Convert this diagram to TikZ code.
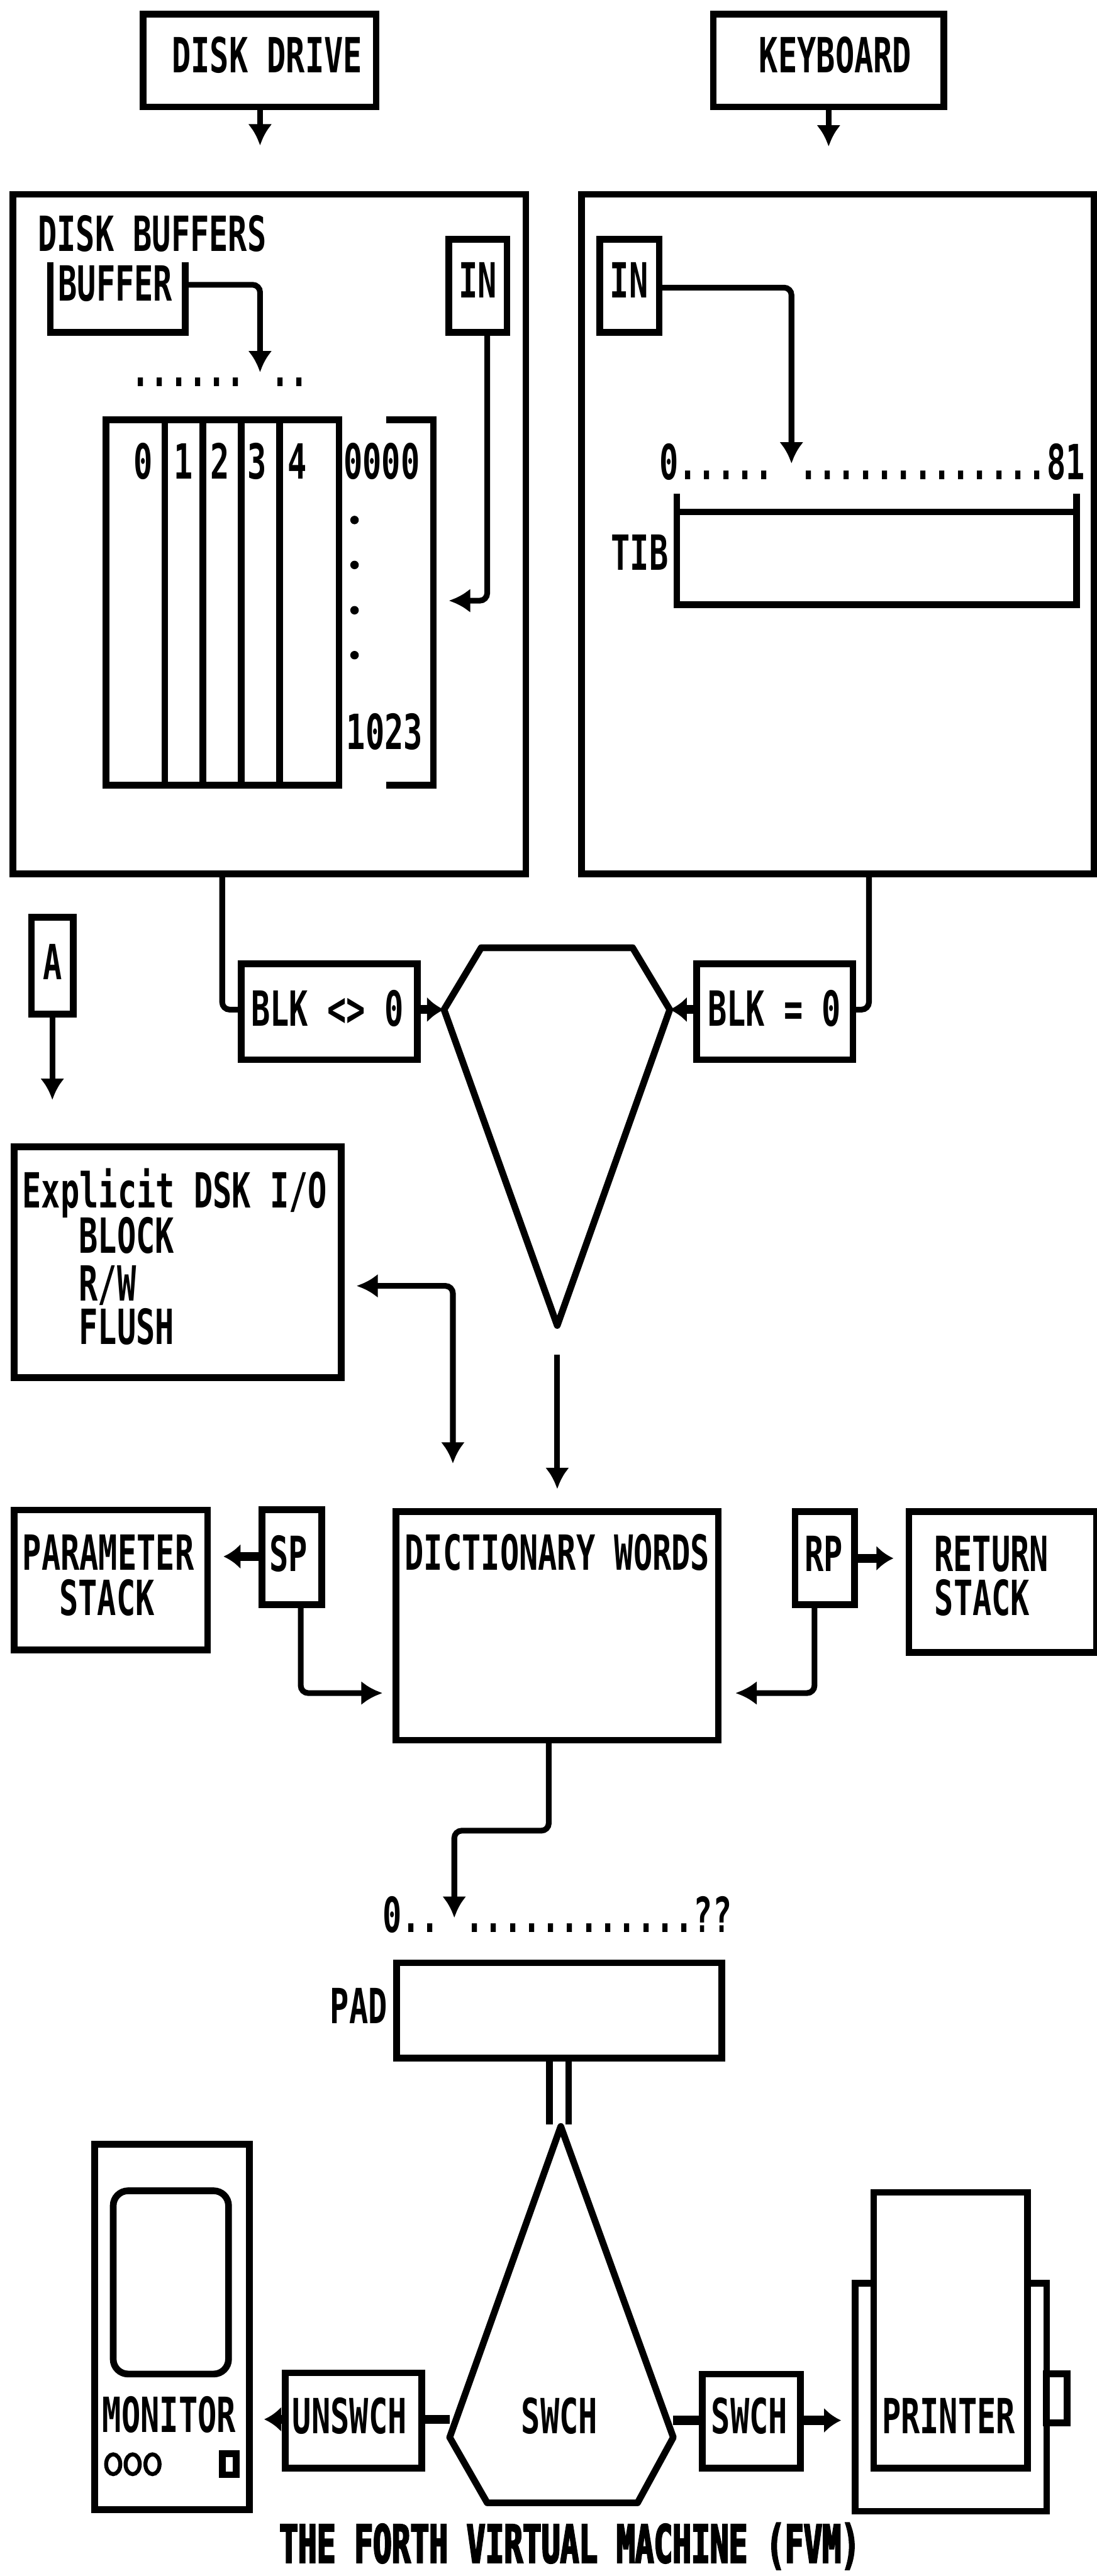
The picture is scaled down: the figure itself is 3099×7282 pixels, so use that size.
\documentclass[tikz,border=0pt]{standalone}
\usepackage{fontspec}
\usepackage{tikz}
\usetikzlibrary{positioning,calc,arrows.meta}
\newfontfamily\fvmfont[FakeStretch=0.653]{DejaVu Sans Mono}
\newfontfamily\fvmtitle[FakeStretch=0.596,BoldFeatures={FakeBold=3}]{DejaVu Sans Mono}
\tikzset{
  fvmbox/.style={draw,line width=2.7pt,inner sep=0pt,outer sep=0pt},
  boxsize/.style 2 args={minimum width=#1*0.005cm,minimum height=#2*0.005cm},
  lab/.style={font=\fvmfont\fontsize{19.5}{18}\selectfont\bfseries,inner sep=0pt,text height=0.5cm,text depth=0pt},
  wire/.style={line width=2.3pt,rounded corners=3pt},
  flow/.style={wire,-{Latex[length=3mm,width=3.4mm]}},
  fatflow/.style={line width=3.6pt,-{Latex[length=2.4mm,width=3.6mm]}}
}
\begin{document}
\begin{tikzpicture}[x=0.005cm,y=-0.005cm]
    \useasboundingbox (0,0) rectangle (3099,7282);
    % sources
    \node[fvmbox,boxsize={658}{263}] (disk) at (734,171) {};
    \node[lab] (disklab) at (755,156) {DISK DRIVE};
    \node[fvmbox,boxsize={652}{263}] (keyboard) at (2342,171) {};
    \node[lab] (keylab) at (2361,156) {KEYBOARD};
    \coordinate (diskend) at (735,411);
    \coordinate (keyend) at (2342,414);
    \draw[flow] (disk.south -| diskend) -- (diskend);
    \draw[flow] (keyboard.south -| keyend) -- (keyend);
    % disk buffers panel
    \node[fvmbox,boxsize={1450}{1921}] (bufpanel) at (761,1510) {};
    \node[lab] (buflab) at (430,660) {DISK BUFFERS};
    \node[lab] (bufferlab) at (326,800) {BUFFER};
    \coordinate (bufleft) at (142,741);
    \coordinate (bufright) at (524,741);
    \draw[line width=2.7pt] (bufleft) -- (142,940) -- (524,940) -- (bufright);
    \coordinate (bufout) at (524,805);
    \coordinate (bufend) at (735,1052);
    \draw[flow] (bufout) -| (bufend);
    \node[lab] (bufdots) at (622,1042) {...... ..};
    \node[fvmbox,boxsize={164}{263}] (blockin) at (1351,808) {};
    \node[lab] (blockinlab) at (1350,792) {IN};
    \node[fvmbox,boxsize={658}{1032}] (bufs) at (629,1703) {};
    \foreach \x in {466,573,682,790}{%
       \draw[line width=2.7pt] (\x,1187) -- (\x,2219);
    }
    \foreach \x/\n in {405/0,518/1,622/2,727/3,840/4}{%
       \node[lab] (bufnum\n) at (\x,1304) {\n};
    }
    \node[lab] (firstline) at (1079,1304) {0000};
    \node[lab] (lastline) at (1087,2069) {1023};
    \foreach \y in {1470,1597,1725,1852}{%
       \fill (1002,\y) circle (12);
    }
    \coordinate (brktop) at (1091,1187);
    \coordinate (brkbot) at (1091,2219);
    \draw[line width=2.7pt] (brktop) -- (1225,1187) -- (1225,2219) -- (brkbot);
    \coordinate (blockend) at (1269,1698);
    \draw[flow] (blockin.south -| 1377,0) |- (blockend);
    % terminal buffer panel
    \node[fvmbox,boxsize={1448}{1921}] (tibpanel) at (2368,1510) {};
    \node[fvmbox,boxsize={168}{263}] (tibin) at (1779,808) {};
    \node[lab] (tibinlab) at (1778,792) {IN};
    \coordinate (tibend) at (2237,1310);
    \draw[flow] (tibin.east |- 0,813) -| (tibend);
    \node[lab] (tibdots) at (2465,1305) {0..... .............81};
    \draw[line width=2.7pt] (1913,1395) -- (1913,1709) -- (3043,1709) -- (3043,1395);
    \draw[line width=2.7pt] (1913,1447) -- (3043,1447);
    \node[lab] (tiblab) at (1808,1562) {TIB};
    % input selector
    \node[fvmbox,boxsize={498}{271}] (blkne) at (931,2860) {};
    \node[lab] (blknelab) at (925,2851) {BLK <> 0};
    \node[fvmbox,boxsize={441}{271}] (blkeq) at (2190,2860) {};
    \node[lab] (blkeqlab) at (2189,2851) {BLK = 0};
    \coordinate (mergeL) at (1255,2854);
    \coordinate (mergeR) at (1893,2854);
    \coordinate (mergeB) at (1575,3747);
    \draw[line width=2.7pt,line join=round] (1360,2679) -- (1788,2679) -- (mergeR) -- (mergeB) -- (mergeL) -- cycle;
    \draw[wire] (bufpanel.south -| 628,0) |- (blkne.west |- 0,2854);
    \draw[wire] (tibpanel.south -| 2456,0) |- (blkeq.east |- 0,2854);
    \draw[fatflow] (blkne.east |- mergeL) -- (mergeL);
    \draw[fatflow] (blkeq.west |- mergeR) -- (mergeR);
    % explicit disk words
    \node[fvmbox,boxsize={118}{273}] (abox) at (148,2730) {};
    \node[lab] (ablab) at (148,2719) {A};
    \coordinate (aend) at (148,3109);
    \draw[flow] (abox.south) -- (aend);
    \node[fvmbox,boxsize={924}{653}] (explicit) at (502,3568) {};
    \node[lab] (explab) at (494,3364) {Explicit DSK I/O};
    \node[lab] (blocklab) at (358,3492) {BLOCK};
    \node[lab] (rwlab) at (304,3627) {R/W};
    \node[lab] (flushlab) at (358,3750) {FLUSH};
    % dictionary and stacks
    \node[fvmbox,boxsize={911}{646}] (dict) at (1575,4596) {};
    \node[lab] (dictlab) at (1575,4389) {DICTIONARY WORDS};
    \coordinate (expjoin) at (1008,3635);
    \coordinate (expend) at (1280,4137);
    \draw[wire,{Latex[length=3mm,width=3.4mm]}-{Latex[length=3mm,width=3.4mm]}] (expjoin) -| (expend);
    \coordinate (mergeout) at (1575,3830);
    \draw[flow] (mergeout) -- (1575,4209);
    \node[fvmbox,boxsize={168}{268}] (sp) at (825,4402) {};
    \node[lab] (splab) at (816,4392) {SP};
    \node[fvmbox,boxsize={547}{395}] (param) at (313,4466) {};
    \node[lab] (paramlab) at (306,4389) {PARAMETER};
    \node[lab] (paramlab2) at (302,4517) {STACK};
    \draw[fatflow] (sp.west |- 0,4400) -- (632,4400);
    \draw[flow] (sp.south -| 850,0) |- (1081,4786);
    \node[fvmbox,boxsize={168}{263}] (rp) at (2331,4404) {};
    \node[lab] (rplab) at (2328,4392) {RP};
    \node[fvmbox,boxsize={530}{398}] (ret) at (2834,4472) {};
    \node[lab] (retlab) at (2802,4392) {RETURN};
    \node[lab] (retlab2) at (2776,4517) {STACK};
    \draw[fatflow] (rp.east |- 0,4405) -- (2525,4405);
    \draw[flow] (rp.south -| 2302,0) |- (2079,4786);
    % pad
    \node[lab] (paddots) at (1575,5412) {0.. ............??};
    \draw[flow] (dict.south -| 1551,0) -- (1551,5175) -- (1284,5175) -- (1284,5421);
    \node[fvmbox,boxsize={919}{269}] (pad) at (1581,5683) {};
    \node[lab] (padlab) at (1014,5671) {PAD};
    % output switch
    \coordinate (swchtop) at (1585,6011);
    \coordinate (swchR) at (1903,6890);
    \coordinate (swchL) at (1271,6890);
    \draw[line width=2.7pt,line join=round] (swchtop) -- (swchR) -- (1802,7075) -- (1377,7075) -- (swchL) -- cycle;
    \draw[line width=2.7pt] (pad.south -| 1553,0) -- (1553,6006);
    \draw[line width=2.7pt] (pad.south -| 1607,0) -- (1607,6006);
    \node[lab] (swchlab) at (1581,6829) {SWCH};
    \node[fvmbox,boxsize={386}{269}] (unswch) at (999,6842) {};
    \node[lab] (unswchlab) at (988,6829) {UNSWCH};
    \node[fvmbox,boxsize={277}{266}] (swchbox) at (2124,6844) {};
    \node[lab] (swchboxlab) at (2118,6829) {SWCH};
    \draw[line width=3.6pt] (unswch.east |- 0,6839) -- (1271,6839);
    \draw[line width=3.6pt] (1903,6842) -- (swchbox.west |- 0,6842);
    \draw[fatflow] (unswch.west |- 0,6839) -- (747,6839);
    \draw[fatflow] (swchbox.east |- 0,6842) -- (2377,6842);
    % monitor
    \node[fvmbox,boxsize={438}{1033}] (monitor) at (486,6578) {};
    \node[fvmbox,boxsize={326}{518},rounded corners=6pt] (screen) at (483,6452) {};
    \node[lab] (monlab) at (478,6826) {MONITOR};
    \foreach \x in {320,375,431}{%
       \draw[line width=1.6pt] (\x,6966) ellipse (20 and 28);
    }
    \node[fvmbox,boxsize={40}{59}] (led) at (648,6966) {};
    % printer
    \draw[line width=2.7pt] (2470,6454) -- (2417,6454) -- (2417,7099) -- (2958,7099) -- (2958,6454) -- (2905,6454);
    \node[fvmbox,boxsize={435}{779}] (paper) at (2687,6587) {};
    \node[lab] (printlab) at (2681,6829) {PRINTER};
    \node[fvmbox,boxsize={59}{139}] (knob) at (2987,6780) {};
    % caption
    \node[font=\fvmtitle\fontsize{21}{20}\selectfont\bfseries,inner sep=0pt,text height=0.54cm,text depth=0pt] (title) at (1610,7190) {THE FORTH VIRTUAL MACHINE (FVM)};
\end{tikzpicture}
\end{document}
